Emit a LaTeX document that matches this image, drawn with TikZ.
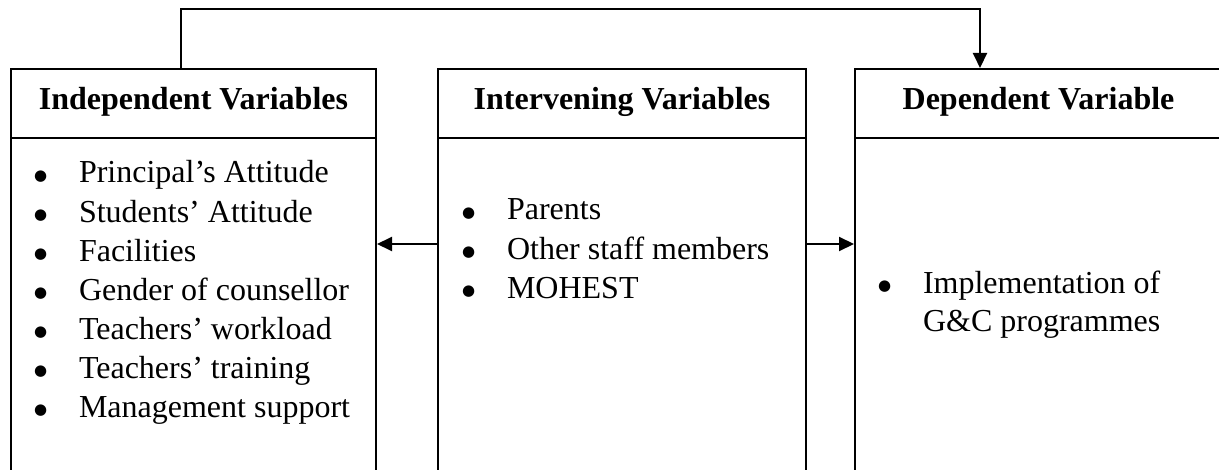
\documentclass[tikz,border=0pt]{standalone}
\usepackage{fontspec}
\setmainfont{Liberation Serif}
\newfontfamily\symfont{DejaVu Sans}
\usetikzlibrary{arrows.meta}
\newcommand\itembul{\makebox[23pt][l]{\hspace{0.5pt}\raisebox{1.3pt}{\symfont\fontsize{7.5pt}{9pt}\selectfont ●}}}
\begin{document}
\begin{tikzpicture}[x=0.5pt,y=-0.5pt,
  line width=1pt,
  hbox/.style={draw, line width=1pt, rectangle, inner sep=0pt, anchor=north west,
    minimum height=34.5pt, text height=11pt, text depth=4.5pt,
    font=\fontsize{16pt}{19.5pt}\selectfont\bfseries},
  bbox/.style={draw, line width=1pt, rectangle, inner sep=0pt, anchor=north west,
    minimum height=175pt},
  item/.style={font=\fontsize{16pt}{19.5pt}\selectfont, anchor=base west, inner sep=0pt},
  arr/.style={-{Triangle[length=7.5pt,width=7pt]}, line width=1pt}]
\useasboundingbox (0,0) rectangle (1219,470);
\begin{scope}
\clip (0,0) rectangle (1219,470);
\node[hbox, minimum width=182.5pt] (h1) at (10,68) {Independent Variables};
\node[bbox, minimum width=182.5pt] (b1) at (10,137) {};
\node[hbox, minimum width=184pt] (h2) at (437,68) {Intervening Variables};
\node[bbox, minimum width=184pt] (b2) at (437,137) {};
\node[hbox, minimum width=183.5pt] (h3) at (854,68) {Dependent Variable};
\node[bbox, minimum width=183.5pt] (b3) at (854,137) {};
\end{scope}
\foreach \t [count=\i] in {Principal’s Attitude, Students’ Attitude, Facilities,
  Gender of counsellor, Teachers’ workload, Teachers’ training, Management support}
  \node[item] (i\i) at (32,144+39*\i) {\itembul\t};
\foreach \t [count=\i] in {Parents, Other staff members, MOHEST}
  \node[item] (j\i) at (460,181+39*\i) {\itembul\t};
\node[item] (k1) at (876,293) {\itembul Implementation of};
\node[item] (k2) at (922,331) {G\&C programmes};
\draw[arr] ([xshift=-6.25pt]h1.north) -- ++(0,-59) -| ([xshift=-29.25pt]h3.north);
\draw[arr] ([yshift=-53.5pt]b2.north west) -- ([yshift=-53.5pt]b1.north east);
\draw[arr] ([yshift=-53.5pt]b2.north east) -- ([yshift=-53.5pt]b3.north west);
\end{tikzpicture}
\end{document}
